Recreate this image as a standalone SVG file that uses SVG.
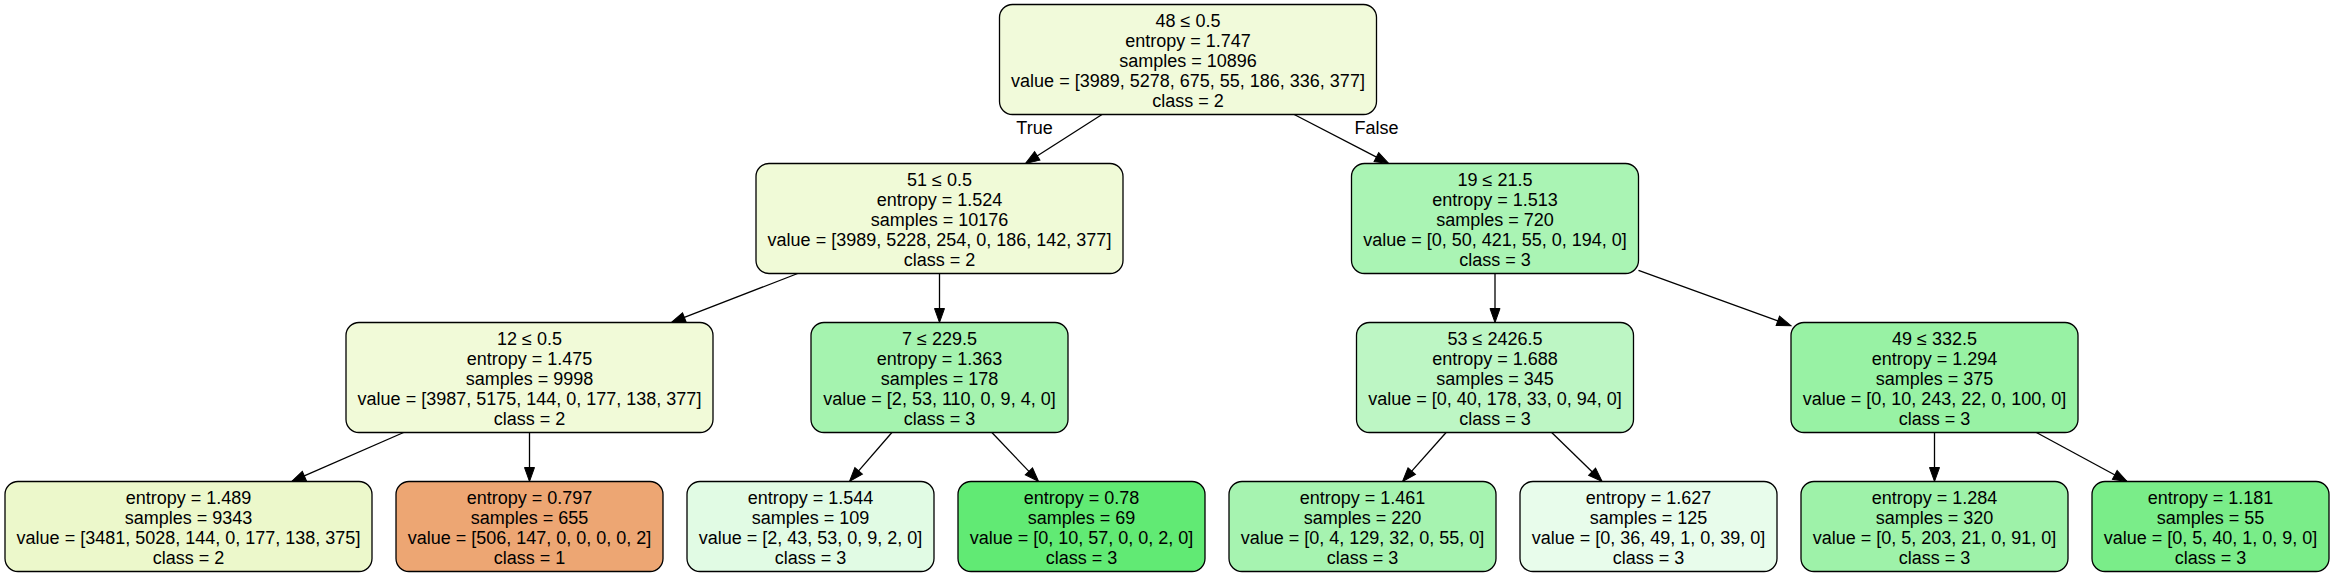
<svg xmlns="http://www.w3.org/2000/svg" width="2333" height="577" viewBox="0 0 2333 577">
<style>
.node rect { stroke: #000; stroke-width: 1.3; }
text { font-family: "Liberation Sans", Arial, Helvetica, sans-serif; font-size: 18px; fill: #000; text-anchor: middle; }
.edges line { stroke: #000; stroke-width: 1.3; fill: none; }
</style>
<defs>
<marker id="arr" markerUnits="userSpaceOnUse" markerWidth="16" markerHeight="12" refX="0.7" refY="5" orient="auto" viewBox="0 0 16 12" overflow="visible">
<path d="M0,0 L14,5 L0,10 Z" fill="#000" stroke="#000" stroke-width="1"/>
</marker>
</defs>
<rect width="2333" height="577" fill="#fff"/>
<g class="edges">
<line x1="1102" y1="114.5" x2="1036.7" y2="156.3" marker-end="url(#arr)"/>
<line x1="1294.2" y1="114.5" x2="1377" y2="157.4" marker-end="url(#arr)"/>
<line x1="797.7" y1="273.5" x2="683.7" y2="317.7" marker-end="url(#arr)"/>
<line x1="939.5" y1="273.5" x2="939.5" y2="309.2" marker-end="url(#arr)"/>
<line x1="1495" y1="273.5" x2="1495" y2="309.2" marker-end="url(#arr)"/>
<line x1="1638.5" y1="270.4" x2="1778.5" y2="321.1" marker-end="url(#arr)"/>
<line x1="403.6" y1="432.5" x2="303.7" y2="476.2" marker-end="url(#arr)"/>
<line x1="529.5" y1="432.5" x2="529.5" y2="468.2" marker-end="url(#arr)"/>
<line x1="891.9" y1="432.5" x2="858.2" y2="471.4" marker-end="url(#arr)"/>
<line x1="991.9" y1="432.5" x2="1029.4" y2="471.9" marker-end="url(#arr)"/>
<line x1="1446.1" y1="432.5" x2="1411.3" y2="471.6" marker-end="url(#arr)"/>
<line x1="1551.7" y1="432.5" x2="1592.6" y2="472.2" marker-end="url(#arr)"/>
<line x1="1934.5" y1="432.5" x2="1934.5" y2="468.2" marker-end="url(#arr)"/>
<line x1="2036.4" y1="432.5" x2="2115.4" y2="475.2" marker-end="url(#arr)"/>
<text x="1034.5" y="134">True</text>
<text x="1376.5" y="134">False</text>
</g>
<g id="node0" class="node">
<rect x="999.5" y="4.5" width="377" height="110" rx="13" fill="#f1fada"/>
<text x="1188" y="26.5">48 ≤ 0.5<tspan x="1188" dy="20">entropy = 1.747</tspan><tspan x="1188" dy="20">samples = 10896</tspan><tspan x="1188" dy="20">value = [3989, 5278, 675, 55, 186, 336, 377]</tspan><tspan x="1188" dy="20">class = 2</tspan></text>
</g>
<g id="node1" class="node">
<rect x="756" y="163.5" width="367" height="110" rx="13" fill="#f0fad7"/>
<text x="939.5" y="185.5">51 ≤ 0.5<tspan x="939.5" dy="20">entropy = 1.524</tspan><tspan x="939.5" dy="20">samples = 10176</tspan><tspan x="939.5" dy="20">value = [3989, 5228, 254, 0, 186, 142, 377]</tspan><tspan x="939.5" dy="20">class = 2</tspan></text>
</g>
<g id="node2" class="node">
<rect x="346" y="322.5" width="367" height="110" rx="13" fill="#f1fad8"/>
<text x="529.5" y="344.5">12 ≤ 0.5<tspan x="529.5" dy="20">entropy = 1.475</tspan><tspan x="529.5" dy="20">samples = 9998</tspan><tspan x="529.5" dy="20">value = [3987, 5175, 144, 0, 177, 138, 377]</tspan><tspan x="529.5" dy="20">class = 2</tspan></text>
</g>
<g id="node3" class="node">
<rect x="5" y="481.5" width="367" height="90" rx="13" fill="#ecf8cb"/>
<text x="188.5" y="503.5">entropy = 1.489<tspan x="188.5" dy="20">samples = 9343</tspan><tspan x="188.5" dy="20">value = [3481, 5028, 144, 0, 177, 138, 375]</tspan><tspan x="188.5" dy="20">class = 2</tspan></text>
</g>
<g id="node4" class="node">
<rect x="396" y="481.5" width="267" height="90" rx="13" fill="#eda673"/>
<text x="529.5" y="503.5">entropy = 0.797<tspan x="529.5" dy="20">samples = 655</tspan><tspan x="529.5" dy="20">value = [506, 147, 0, 0, 0, 0, 2]</tspan><tspan x="529.5" dy="20">class = 1</tspan></text>
</g>
<g id="node5" class="node">
<rect x="811" y="322.5" width="257" height="110" rx="13" fill="#a5f3af"/>
<text x="939.5" y="344.5">7 ≤ 229.5<tspan x="939.5" dy="20">entropy = 1.363</tspan><tspan x="939.5" dy="20">samples = 178</tspan><tspan x="939.5" dy="20">value = [2, 53, 110, 0, 9, 4, 0]</tspan><tspan x="939.5" dy="20">class = 3</tspan></text>
</g>
<g id="node6" class="node">
<rect x="687" y="481.5" width="247" height="90" rx="13" fill="#e1fbe4"/>
<text x="810.5" y="503.5">entropy = 1.544<tspan x="810.5" dy="20">samples = 109</tspan><tspan x="810.5" dy="20">value = [2, 43, 53, 0, 9, 2, 0]</tspan><tspan x="810.5" dy="20">class = 3</tspan></text>
</g>
<g id="node7" class="node">
<rect x="958" y="481.5" width="247" height="90" rx="13" fill="#61ea74"/>
<text x="1081.5" y="503.5">entropy = 0.78<tspan x="1081.5" dy="20">samples = 69</tspan><tspan x="1081.5" dy="20">value = [0, 10, 57, 0, 0, 2, 0]</tspan><tspan x="1081.5" dy="20">class = 3</tspan></text>
</g>
<g id="node8" class="node">
<rect x="1351.5" y="163.5" width="287" height="110" rx="13" fill="#aaf4b4"/>
<text x="1495" y="185.5">19 ≤ 21.5<tspan x="1495" dy="20">entropy = 1.513</tspan><tspan x="1495" dy="20">samples = 720</tspan><tspan x="1495" dy="20">value = [0, 50, 421, 55, 0, 194, 0]</tspan><tspan x="1495" dy="20">class = 3</tspan></text>
</g>
<g id="node9" class="node">
<rect x="1356.5" y="322.5" width="277" height="110" rx="13" fill="#bdf6c4"/>
<text x="1495" y="344.5">53 ≤ 2426.5<tspan x="1495" dy="20">entropy = 1.688</tspan><tspan x="1495" dy="20">samples = 345</tspan><tspan x="1495" dy="20">value = [0, 40, 178, 33, 0, 94, 0]</tspan><tspan x="1495" dy="20">class = 3</tspan></text>
</g>
<g id="node10" class="node">
<rect x="1229" y="481.5" width="267" height="90" rx="13" fill="#a6f3b0"/>
<text x="1362.5" y="503.5">entropy = 1.461<tspan x="1362.5" dy="20">samples = 220</tspan><tspan x="1362.5" dy="20">value = [0, 4, 129, 32, 0, 55, 0]</tspan><tspan x="1362.5" dy="20">class = 3</tspan></text>
</g>
<g id="node11" class="node">
<rect x="1520" y="481.5" width="257" height="90" rx="13" fill="#e8fceb"/>
<text x="1648.5" y="503.5">entropy = 1.627<tspan x="1648.5" dy="20">samples = 125</tspan><tspan x="1648.5" dy="20">value = [0, 36, 49, 1, 0, 39, 0]</tspan><tspan x="1648.5" dy="20">class = 3</tspan></text>
</g>
<g id="node12" class="node">
<rect x="1791" y="322.5" width="287" height="110" rx="13" fill="#98f2a4"/>
<text x="1934.5" y="344.5">49 ≤ 332.5<tspan x="1934.5" dy="20">entropy = 1.294</tspan><tspan x="1934.5" dy="20">samples = 375</tspan><tspan x="1934.5" dy="20">value = [0, 10, 243, 22, 0, 100, 0]</tspan><tspan x="1934.5" dy="20">class = 3</tspan></text>
</g>
<g id="node13" class="node">
<rect x="1801" y="481.5" width="267" height="90" rx="13" fill="#9ef2a9"/>
<text x="1934.5" y="503.5">entropy = 1.284<tspan x="1934.5" dy="20">samples = 320</tspan><tspan x="1934.5" dy="20">value = [0, 5, 203, 21, 0, 91, 0]</tspan><tspan x="1934.5" dy="20">class = 3</tspan></text>
</g>
<g id="node14" class="node">
<rect x="2092" y="481.5" width="237" height="90" rx="13" fill="#7aed89"/>
<text x="2210.5" y="503.5">entropy = 1.181<tspan x="2210.5" dy="20">samples = 55</tspan><tspan x="2210.5" dy="20">value = [0, 5, 40, 1, 0, 9, 0]</tspan><tspan x="2210.5" dy="20">class = 3</tspan></text>
</g>
</svg>
